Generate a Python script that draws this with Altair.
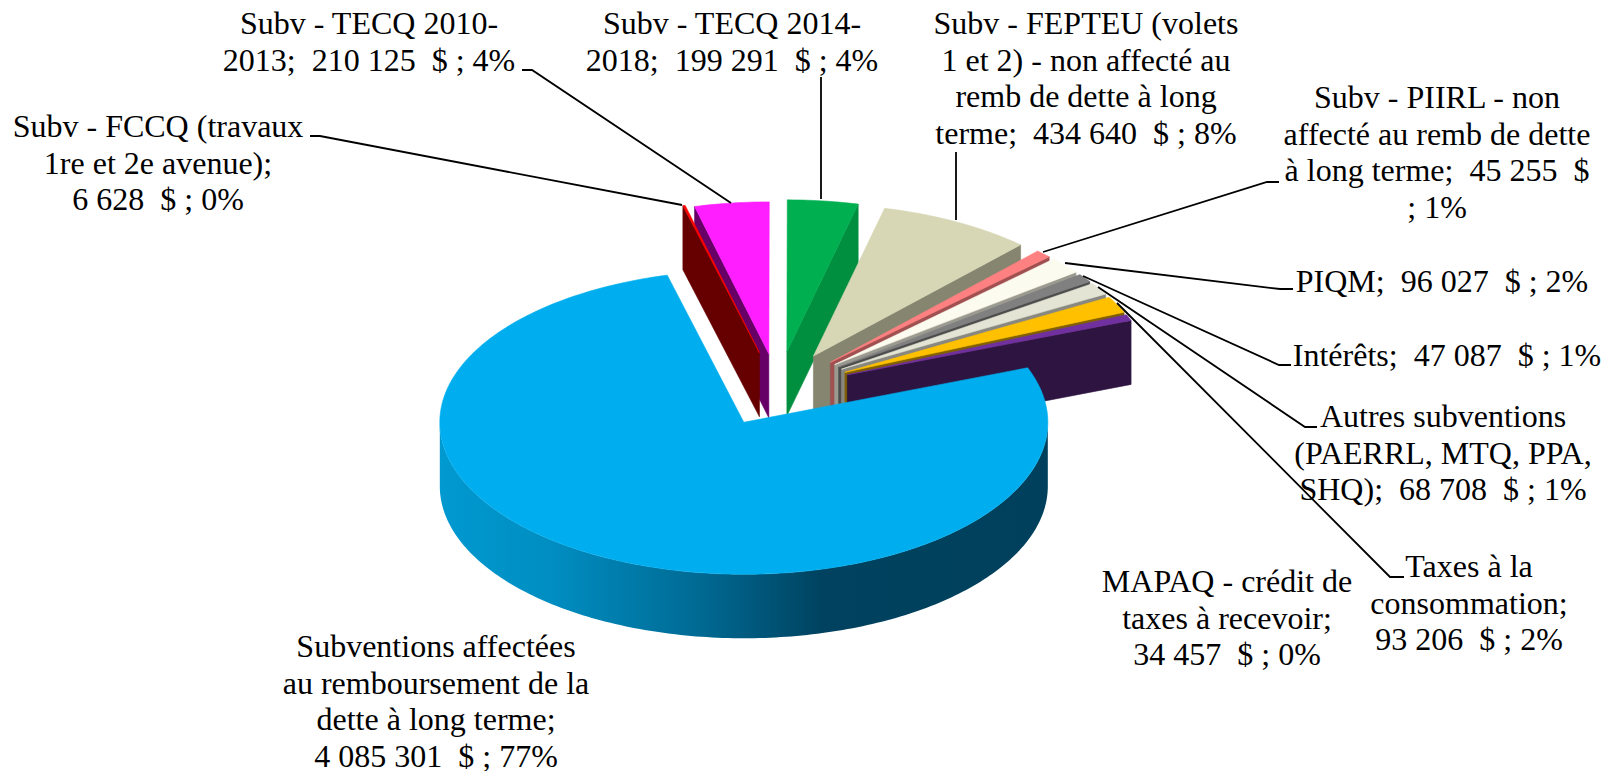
import math
import altair as alt
import pandas as pd

# ---- data ----
CATEGORIES = ["Subventions affectées au remboursement", "FCCQ", "TECQ 2010-2013", "TECQ 2014-2018",
              "FEPTEU", "PIIRL", "PIQM", "Intérêts", "Autres subventions", "Taxes à la consommation", "MAPAQ"]
VALUES = [4085301, 6628, 210125, 199291, 434640, 45255, 96027, 47087, 68708, 93206, 34457]
TOP_COLORS = ["#00AEEF", "#FF0000", "#FF1EFF", "#00B050", "#D7D6B5", "#FF8080",
              "#FBFBEF", "#808080", "#E3E4D4", "#FFC000", "#7030A0"]
WALL_COLORS = ["#00405C", "#660000", "#660066", "#008F3F", "#868570", "#A05050",
               "#9A9A90", "#4D4D4D", "#888880", "#806000", "#2E1440"]
LABELS = [
    "Subventions affectées\nau remboursement de la\ndette à long terme;\n4 085 301\u00a0\u00a0$ ; 77%",
    "Subv - FCCQ (travaux\n1re et 2e avenue);\n6 628\u00a0\u00a0$ ; 0%",
    "Subv - TECQ 2010-\n2013;\u00a0\u00a0210 125\u00a0\u00a0$ ; 4%",
    "Subv - TECQ 2014-\n2018;\u00a0\u00a0199 291\u00a0\u00a0$ ; 4%",
    "Subv - FEPTEU (volets\n1 et 2) - non affecté au\nremb de dette à long\nterme;\u00a0\u00a0434 640\u00a0\u00a0$ ; 8%",
    "Subv - PIIRL - non\naffecté au remb de dette\nà long terme;\u00a0\u00a045 255\u00a0\u00a0$\n; 1%",
    "PIQM;\u00a0\u00a096 027\u00a0\u00a0$ ; 2%",
    "Intérêts;\u00a0\u00a047 087\u00a0\u00a0$ ; 1%",
    "Autres subventions\n(PAERRL, MTQ, PPA,\nSHQ);\u00a0\u00a068 708\u00a0\u00a0$ ; 1%",
    "Taxes à la\nconsommation;\n93 206\u00a0\u00a0$ ; 2%",
    "MAPAQ - crédit de\ntaxes à recevoir;\n34 457\u00a0\u00a0$ ; 0%",
]

# ---- layout of the picture (page pixels) ----
LABEL_X = [436, 158, 369, 732, 1086, 1437, 1442, 1447, 1443, 1469, 1227]
LABEL_Y = [657, 137, 34, 34, 34, 108, 292, 366, 427, 577, 592]
LEADER_PATHS = [
    [(310, 136), (320, 136), (682, 205)],
    [(522, 70), (532, 70), (731, 203)],
    [(821, 77), (821, 199)],
    [(956, 152), (956, 220)],
    [(1279, 182), (1267, 182), (1043, 252)],
    [(1293, 289), (1280, 289), (1065, 263)],
    [(1291, 365), (1279, 365), (1083, 276)],
    [(1317, 427), (1305, 427), (1098, 287)],
    [(1404, 577), (1390, 577), (1117, 303)],
]
RX, RY, DEPTH = 304, 152, 64
CX, CY = 778, 389
EXPLODE = 0.246
START = 69.0
SLICE_DY = [0, 0, 2, 0, 0, 0, 0, 0, 0, 0, 0]
FONT_SIZE = 32
LINE_H = 36.6
PAGE_W, PAGE_H = 1618, 771
SVG_H = 770

xs = alt.Scale(domain=[8, PAGE_W - 8], range=[0, PAGE_W - 16], nice=False, zero=False)
ys = alt.Scale(domain=[8, 8 + SVG_H], range=[0, SVG_H], nice=False, zero=False)
X = alt.X("x:Q", scale=xs, axis=None)
Y = alt.Y("y:Q", scale=ys, axis=None)


def polygon(points, color):
    rows = [{"x": p[0], "y": p[1], "i": i} for i, p in enumerate(points + points[:1])]
    return alt.Chart(pd.DataFrame(rows)).mark_line(
        fill=color, stroke=color, strokeWidth=0.6, interpolate="linear", strokeJoin="bevel"
    ).encode(x=X, y=Y, order="i:Q")


def pt(apex, deg, r=1.0):
    t = math.radians(deg)
    return (apex[0] + RX * r * math.sin(t), apex[1] - RY * r * math.cos(t))


def down(p):
    return (p[0], p[1] + DEPTH)


total = sum(VALUES)
angles = []
a = START
for v in VALUES:
    b = a + 360.0 * v / total
    angles.append((a, b))
    a = b

apexes = []
for k, (a, b) in enumerate(angles):
    m = math.radians((a + b) / 2)
    apexes.append((CX + RX * EXPLODE * math.sin(m), CY - RY * EXPLODE * math.cos(m) + SLICE_DY[k]))


def arc_points(i, a, b):
    n = max(2, int(abs(b - a) / 1.0) + 1)
    return [pt(apexes[i], a + (b - a) * k / n) for k in range(n + 1)]


def top_face(i):
    a, b = angles[i]
    return [apexes[i]] + arc_points(i, a, b)


def edge_wall(i, deg):
    o = pt(apexes[i], deg)
    return [apexes[i], o, down(o), down(apexes[i])]


layers = []
# small slices, back to front: magenta, red on the left; green then clockwise on the right
for i in [2, 1]:
    layers.append(polygon(edge_wall(i, angles[i][0]), WALL_COLORS[i]))
    layers.append(polygon(top_face(i), TOP_COLORS[i]))
for i in range(3, 11):
    layers.append(polygon(edge_wall(i, angles[i][1]), WALL_COLORS[i]))
    layers.append(polygon(top_face(i), TOP_COLORS[i]))

# the big slice: shaded outer wall, then its top face
wall_rows = []
for d in range(90, 271):
    p = pt(apexes[0], d)
    wall_rows.append({"x": p[0], "y": p[1], "y2": p[1] + DEPTH})
wall_gradient = alt.Gradient(
    gradient="linear", x1=0, y1=0, x2=1, y2=0,
    stops=[alt.GradientStop(offset=0.0, color="#0099D0"),
           alt.GradientStop(offset=0.18, color="#008EC2"),
           alt.GradientStop(offset=0.42, color="#006B95"),
           alt.GradientStop(offset=0.63, color="#00425F"),
           alt.GradientStop(offset=1.0, color="#00405C")],
)
layers.append(alt.Chart(pd.DataFrame(wall_rows)).mark_area(color=wall_gradient, interpolate="linear").encode(
    x=X, y=Y, y2="y2:Q"))
layers.append(polygon(top_face(0), TOP_COLORS[0]))

# leader lines
for path in LEADER_PATHS:
    rows = [{"x": p[0], "y": p[1], "i": i} for i, p in enumerate(path)]
    layers.append(alt.Chart(pd.DataFrame(rows)).mark_line(color="#000000", strokeWidth=1.8).encode(
        x=X, y=Y, order="i:Q"))

# labels
label_df = pd.DataFrame({"x": LABEL_X, "y": LABEL_Y, "label": LABELS})
layers.append(alt.Chart(label_df).mark_text(
    font="Liberation Serif", fontSize=FONT_SIZE, color="#000000", align="center",
    baseline="alphabetic", lineBreak="\n", lineHeight=LINE_H
).encode(x=X, y=Y, text="label:N"))

chart = alt.layer(*layers).properties(
    width=PAGE_W - 16, height=SVG_H, padding=0,
    autosize=alt.AutoSizeParams(type="none"),
    background="#ffffff",
).configure_view(stroke=None)

chart.save("out.html", embed_options={"renderer": "svg", "actions": False})
